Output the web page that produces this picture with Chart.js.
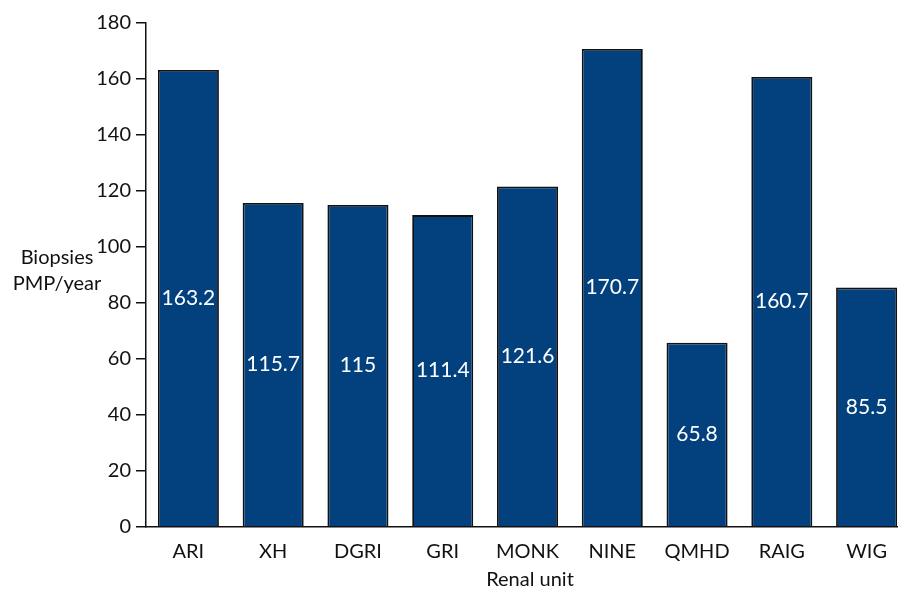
<!DOCTYPE html>
<html>
<head>
<meta charset="utf-8">
<script src="https://cdn.jsdelivr.net/npm/chart.js@4"></script>
<style>
  html, body { margin: 0; padding: 0; background: #fff; overflow: hidden; }
  #wrap { width: 909px; height: 590px; }
</style>
</head>
<body>
<div id="wrap"><canvas id="myChart" width="909" height="590"></canvas></div>
<script>
// Renal biopsy rates by unit
const units = ['ARI', 'XH', 'DGRI', 'GRI', 'MONK', 'NINE', 'QMHD', 'RAIG', 'WIG']
const biopsies = [163.2, 115.7, 115, 111.4, 121.6, 170.7, 65.8, 160.7, 85.5]
const yTicks = [0, 20, 40, 60, 80, 100, 120, 140, 160, 180]

const FONT = 'Lato, "Open Sans", sans-serif'

// White value text in the middle of each bar, plus the two axis titles
const barLabels = {
  id: 'barLabels',
  afterDatasetsDraw(chart) {
    const ctx = chart.ctx
    const meta = chart.getDatasetMeta(0)
    ctx.save()
    ctx.fillStyle = '#ffffff'
    ctx.font = '21px ' + FONT
    ctx.textAlign = 'center'
    ctx.textBaseline = 'middle'
    meta.data.forEach((bar, i) => {
      const mid = (bar.y + bar.base) / 2
      ctx.fillText(String(biopsies[i]), bar.x, mid)
    })

    ctx.fillStyle = '#111111'
    ctx.font = '20px ' + FONT
    ctx.fillText('Biopsies', 57, 258)
    ctx.fillText('PMP/year', 57, 284)
    ctx.fillText('Renal unit', 530, 580)
    ctx.restore()
  },
}

const ctx = document.getElementById('myChart').getContext('2d')

new Chart(ctx, {
  type: 'bar',
  data: {
    labels: units,
    datasets: [
      {
        data: biopsies,
        backgroundColor: '#02417d',
        borderColor: '#111111',
        borderWidth: 1.8,
        borderSkipped: 'bottom',
        barPercentage: 0.72,
        categoryPercentage: 1,
      },
    ],
  },
  options: {
    responsive: false,
    animation: false,
    layout: { padding: { top: 23, right: 0, left: 0, bottom: 0 } },
    plugins: {
      legend: { display: false },
      tooltip: { enabled: false },
    },
    scales: {
      x: {
        grid: { display: false },
        border: { display: true, color: '#111111', width: 1.5 },
        ticks: {
          color: '#111111',
          font: { family: FONT, size: 20 },
          padding: 5,
          maxRotation: 0,
        },
        afterFit(scale) {
          scale.height = 63
        },
      },
      y: {
        min: 0,
        max: 180,
        afterBuildTicks(scale) {
          scale.ticks = yTicks.map((v) => ({ value: v }))
        },
        grid: {
          drawOnChartArea: false,
          drawTicks: true,
          tickLength: 10,
          color: '#111111',
          lineWidth: 1.5,
        },
        border: { display: true, color: '#111111', width: 1.5 },
        ticks: {
          color: '#111111',
          font: { family: FONT, size: 20 },
          padding: 5,
        },
        afterFit(scale) {
          scale.width = 146
        },
      },
    },
  },
  plugins: [barLabels],
})
</script>
</body>
</html>
